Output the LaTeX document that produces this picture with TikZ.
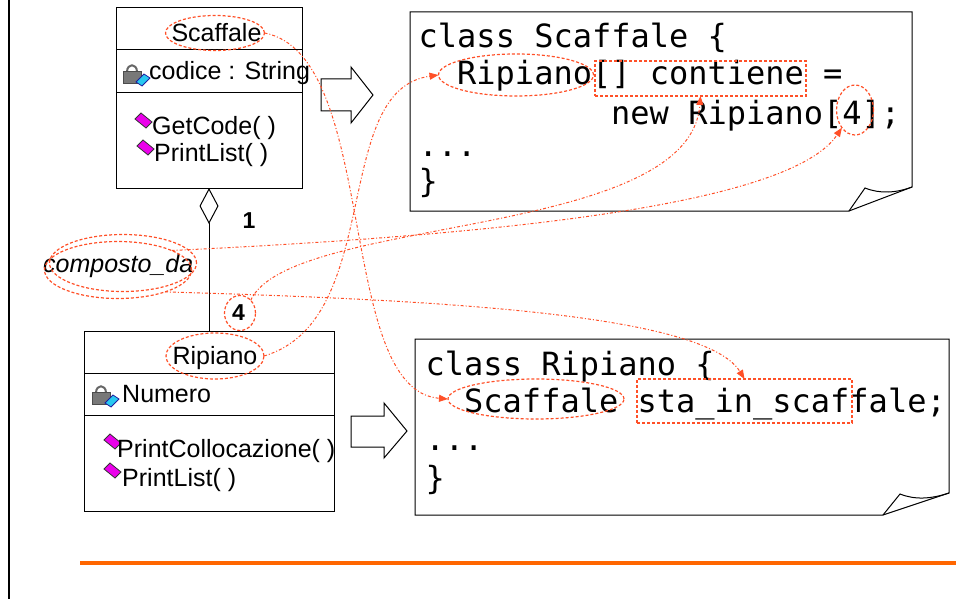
\documentclass[tikz,border=0pt]{standalone}
\usepackage{fontspec}
\newfontfamily\umlfont{Liberation Sans}
\newfontfamily\mulfont{Liberation Sans Bold}
\newfontfamily\codefont{DejaVu Sans Mono}
\usetikzlibrary{arrows.meta,shapes.geometric}
\definecolor{hlred}{RGB}{255,80,40}
\definecolor{barorange}{RGB}{255,102,0}
\definecolor{iconpink}{RGB}{235,0,235}
\definecolor{iconcyan}{RGB}{40,200,240}
\definecolor{iconblue}{RGB}{30,30,160}
\definecolor{lockgrey}{RGB}{120,120,120}
\tikzset{
  umltext/.style={font=\umlfont\fontsize{25}{30}\selectfont, inner sep=0pt},
  multext/.style={font=\mulfont\fontsize{23}{28}\selectfont, inner sep=0pt, anchor=base},
  codetext/.style={font=\codefont\fontsize{32}{38}\selectfont, inner sep=0pt, anchor=base west},
  hlmark/.style={draw=hlred, line width=1.2pt, dash pattern=on 3pt off 2pt, inner sep=0pt, outer sep=0pt},
  hlell/.style={hlmark, ellipse},
  hlbox/.style={hlmark, rectangle},
  link/.style={draw=hlred, line width=1pt, dash pattern=on 3pt off 2pt on 1pt off 2pt,
    -{Triangle[length=9pt,width=7pt]}},
  classbox/.style={draw, line width=1pt, inner sep=0pt, outer sep=0pt},
  lockicon/.pic={
    \draw[black!60, line width=2pt] (5,10) .. controls (5,1) and (15,1) .. (15,10);
    \filldraw[fill=lockgrey, draw=black!70] (1,9) rectangle (19,21);
    \filldraw[fill=iconcyan, draw=iconblue, line width=0.8pt] (14,20) -- (22,12) -- (28,16) -- (20,24) -- cycle;
  },
  methicon/.pic={
    \filldraw[fill=iconpink, draw=black!80, line width=0.8pt] (0,6) -- (6,0) -- (17,9) -- (11,15) -- cycle;
  }
}
\begin{document}
\begin{tikzpicture}[x=1pt,y=-1pt]
  \useasboundingbox (0,0) rectangle (956,599);
  \draw[line width=2.5pt] (9,0) -- (9,599);
  \draw[barorange, line width=4pt] (80,563) -- (956,563);

  % class Scaffale
  \node[classbox, minimum width=186pt, minimum height=180pt] (scafBox) at (209,98) {};
  \draw[line width=1pt] (116,50) -- (302,50) (116,93) -- (302,93);
  \node[umltext, anchor=base] (scafN) at (216.5,42) {Scaffale};
  \pic at (122,62) {lockicon};
  \node[umltext, anchor=base west] (scafA) at (149,80) {codice : String};
  \foreach \x/\y/\t/\n in {152/135/{GetCode( )}/scafM1, 154/162/{PrintList( )}/scafM2} {
    \pic at (\x-17,\y-22) {methicon};
    \node[umltext, anchor=base west] (\n) at (\x,\y) {\t};
  }

  % class Ripiano
  \node[classbox, minimum width=250pt, minimum height=180pt] (ripBox) at (209,421) {};
  \draw[line width=1pt] (84,373) -- (334,373) (84,415) -- (334,415);
  \node[umltext, anchor=base] (ripN) at (215,364) {Ripiano};
  \pic at (91,383) {lockicon};
  \node[umltext, anchor=base west] (ripA) at (122,402) {Numero};
  \foreach \x/\y/\t/\n in {117/457/{PrintCollocazione( )}/ripM1, 122/486/{PrintList( )}/ripM2} {
    \pic at (104,\y-23) {methicon};
    \node[umltext, anchor=base west] (\n) at (\x,\y) {\t};
  }

  % aggregation
  \draw[line width=1pt, {Diamond[open,length=36pt,width=19pt]}-] (scafBox.south) -- (ripBox.north);
  \node[multext] (mulOne) at (249,228) {1};
  \node[multext] (mulFour) at (238.5,320) {4};
  \node[umltext, font=\umlfont\fontsize{25}{30}\selectfont\itshape, anchor=base west] (cdaN) at (43,272) {composto\_da};

  % hollow arrows
  \draw[line width=1pt, fill=white] (321,79) -- (351,79) -- (351,67) -- (373,95) -- (351,123) -- (351,111) -- (321,111) -- cycle;
  \draw[line width=1pt, fill=white] (351,416) -- (384,416) -- (384,403) -- (407,431) -- (384,458) -- (384,447) -- (351,447) -- cycle;

  % code pages
  \draw[line width=1pt] (410,12) -- (912,12) -- (912,187) -- (849,211) -- (410,211) -- cycle;
  \draw[line width=1pt] (849,211) -- (865,188) .. controls (880,194) and (896,193) .. (912,187);
  \draw[line width=1pt] (415,339) -- (949,339) -- (949,493) -- (883,515) -- (415,515) -- cycle;
  \draw[line width=1pt] (883,515) -- (900,494) .. controls (915,500) and (931,499) .. (949,493);

  \node[codetext] (c1a) at (418.5,48) {class Scaffale \{};
  \node[codetext] (c1b) at (457,85) {Ripiano[] contiene =};
  \node[codetext] (c1c) at (611,125) {new Ripiano[4];};
  \node[codetext] (c1d) at (418.5,157) {...};
  \node[codetext] (c1e) at (418.5,193) {\}};
  \node[codetext] (c2a) at (425.5,375) {class Ripiano \{};
  \node[codetext] (c2b) at (464,412) {Scaffale sta\_in\_scaffale;};
  \node[codetext] (c2c) at (425.5,450) {...};
  \node[codetext] (c2d) at (425.5,489) {\}};

  % highlights
  \node[hlell, minimum width=99pt, minimum height=35pt] (scafU) at (215,33) {};
  \node[hlell, minimum width=98pt, minimum height=46pt] (ripU) at (215,356) {};
  \node[hlell, minimum width=31pt, minimum height=35pt] (fourU) at (240,313) {};
  \node[hlell, minimum width=147pt, minimum height=57pt] (cda1) at (123,263) {};
  \node[hlell, minimum width=147pt, minimum height=57pt] (cda2) at (118,270) {};
  \node[hlell, minimum width=155pt, minimum height=42pt] (ripC) at (516,75) {};
  \node[hlbox, minimum width=211pt, minimum height=35pt] (contC) at (700.5,78.5) {};
  \node[hlell, minimum width=37pt, minimum height=50pt] (fourC) at (855,110) {};
  \node[hlell, minimum width=176pt, minimum height=40pt] (scafC) at (536,399) {};
  \node[hlbox, minimum width=215pt, minimum height=44pt] (staC) at (744.5,401) {};

  % links
  \draw[link] (cda2.20) .. controls (500,235) and (790,205) .. (fourC.south west);
  \draw[link] (fourU.50) .. controls (290,215) and (690,240) .. (contC.south);
  \draw[link] (cda2.-25) .. controls (450,300) and (705,315) .. (staC.north);
  \draw[link] (ripU.east) .. controls (385,320) and (330,90) .. (ripC.west);
  \draw[link] (scafU.east) .. controls (380,55) and (335,390) .. (scafC.west);
\end{tikzpicture}
\end{document}
